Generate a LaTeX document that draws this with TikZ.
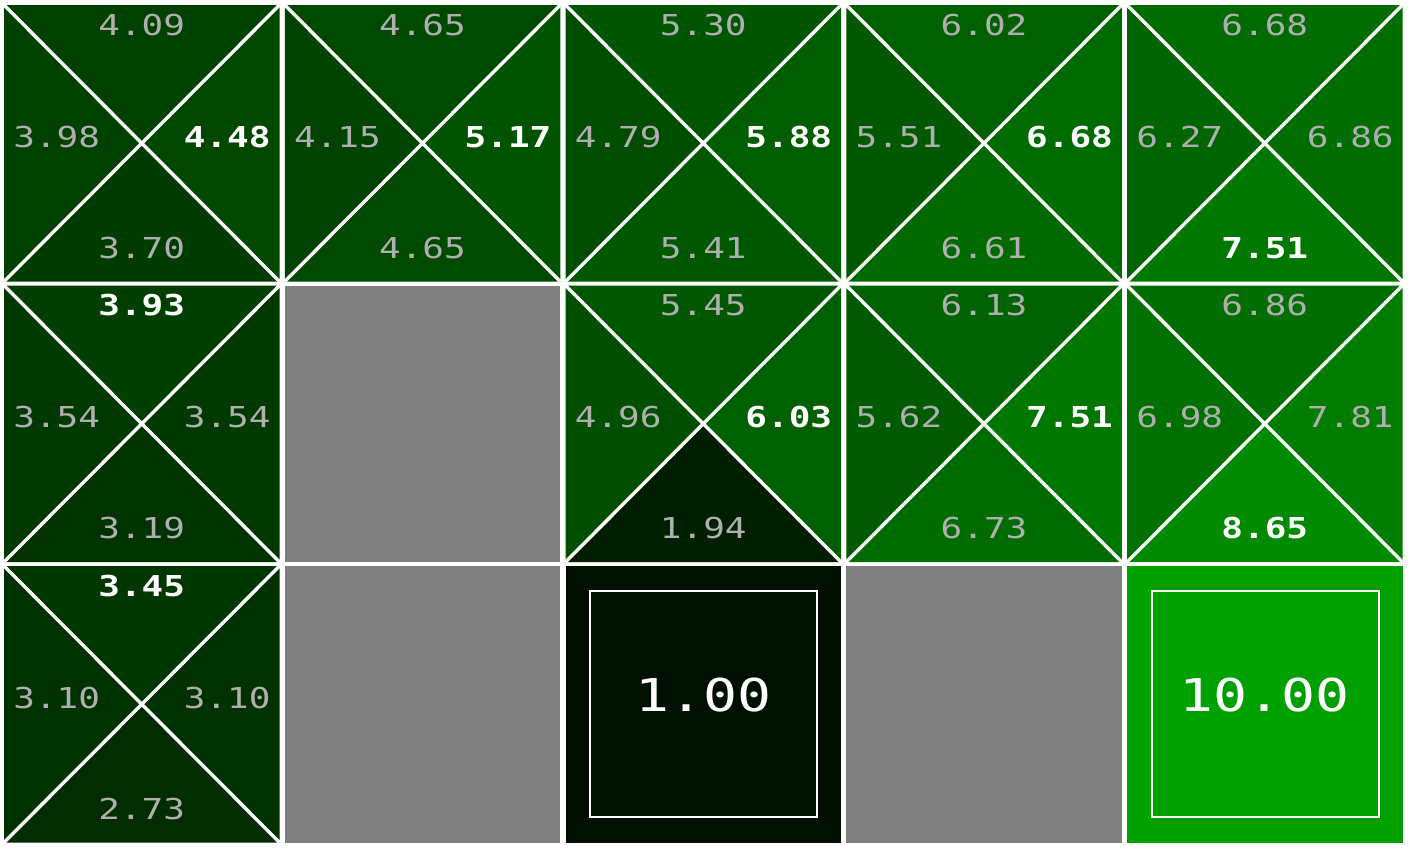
\documentclass[tikz,border=0pt]{standalone}
\usepackage{fontspec}
\newfontfamily\qmono[FakeStretch=1.25]{DejaVu Sans Mono}
\definecolor{labgrey}{RGB}{175,175,175}
\definecolor{wallgrey}{RGB}{128,128,128}
\newcommand\qsmall{\qmono\fontsize{14.4}{16}\selectfont}
\newcommand\qbig{\qmono\fontsize{22.6}{26}\selectfont}
\newcommand\qcol[2]{\pgfmathsetmacro\qg{int(round(16*#2))}\definecolor{#1}{RGB}{0,\qg,0}}
\tikzset{
  lab/.style={inner sep=0pt, font=\qsmall, text=labgrey},
  best/.style={inner sep=0pt, font=\qsmall\bfseries, text=white},
  diag/.style={white, line width=1.7pt},
  termlab/.style={inner sep=0pt, font=\qbig, text=white},
  termbox/.style={white, line width=1pt}
}
\newcommand\qpos[2]{%
  \pgfmathsetmacro\xo{4+280.75*#1}%
  \pgfmathsetmacro\yo{5+280.5*#2}%
  \pgfmathsetmacro\xe{\xo+275.5}%
  \pgfmathsetmacro\ye{\yo+276.5}%
  \pgfmathsetmacro\xc{\xo+137.75}%
  \pgfmathsetmacro\yc{\yo+138.25}}
\newcommand\qcell[7]{%
\begin{scope}
\tikzset{st/.style={lab},sl/.style={lab},sr/.style={lab},sb/.style={lab}}
\tikzset{s#7/.style={best}}
\qpos{#1}{#2}
\qcol{qT}{#3}\qcol{qL}{#4}\qcol{qR}{#5}\qcol{qB}{#6}
\coordinate (k#1#2a) at (\xo,\yo);
\coordinate (k#1#2b) at (\xe,\yo);
\coordinate (k#1#2c) at (\xe,\ye);
\coordinate (k#1#2d) at (\xo,\ye);
\coordinate (k#1#2m) at (\xc,\yc);
\fill[qT] (k#1#2a) -- (k#1#2b) -- (k#1#2m) -- cycle;
\fill[qR] (k#1#2b) -- (k#1#2c) -- (k#1#2m) -- cycle;
\fill[qB] (k#1#2c) -- (k#1#2d) -- (k#1#2m) -- cycle;
\fill[qL] (k#1#2d) -- (k#1#2a) -- (k#1#2m) -- cycle;
\draw[diag] (k#1#2a) -- (k#1#2c) (k#1#2b) -- (k#1#2d);
\node[st] (q#1#2t) at (\xc,\yo+20) {#3};
\node[sb] (q#1#2b) at (\xc,\yo+243) {#6};
\node[sl,anchor=west] (q#1#2l) at (\xo+9,\yo+132) {#4};
\node[sr,anchor=east] (q#1#2r) at (\xo+267,\yo+132) {#5};
\end{scope}}
\newcommand\qterm[3]{%
\begin{scope}
\qpos{#1}{#2}
\qcol{qV}{#3}
\fill[qV] (\xo,\yo) rectangle (\xe,\ye);
\draw[termbox] (\xo+24.5,\yo+25) rectangle (\xo+251.5,\yo+251);
\node[termlab] (q#1#2v) at (\xc,\yo+129) {#3};
\end{scope}}
\newcommand\qwall[2]{%
\begin{scope}
\qpos{#1}{#2}
\fill[wallgrey] (\xo,\yo) rectangle (\xe,\ye);
\end{scope}}
\begin{document}
\begin{tikzpicture}[x=0.5pt,y=-0.5pt]
\useasboundingbox (0,0) rectangle (1410,848);
\fill[white] (0,0) rectangle (1410,848);
% row 0
\qcell{0}{0}{4.09}{3.98}{4.48}{3.70}{r}
\qcell{1}{0}{4.65}{4.15}{5.17}{4.65}{r}
\qcell{2}{0}{5.30}{4.79}{5.88}{5.41}{r}
\qcell{3}{0}{6.02}{5.51}{6.68}{6.61}{r}
\qcell{4}{0}{6.68}{6.27}{6.86}{7.51}{b}
% row 1
\qcell{0}{1}{3.93}{3.54}{3.54}{3.19}{t}
\qwall{1}{1}
\qcell{2}{1}{5.45}{4.96}{6.03}{1.94}{r}
\qcell{3}{1}{6.13}{5.62}{7.51}{6.73}{r}
\qcell{4}{1}{6.86}{6.98}{7.81}{8.65}{b}
% row 2
\qcell{0}{2}{3.45}{3.10}{3.10}{2.73}{t}
\qwall{1}{2}
\qterm{2}{2}{1.00}
\qwall{3}{2}
\qterm{4}{2}{10.00}
\end{tikzpicture}
\end{document}
